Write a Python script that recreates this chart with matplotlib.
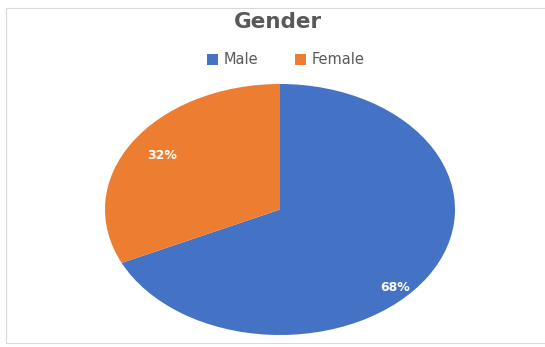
import matplotlib.pyplot as plt
from matplotlib.patches import Rectangle

labels = ['Male', 'Female']
shares = [68, 32]
colors = ['#4472C4', '#ED7D31']

W, H = 545, 347
fig = plt.figure(figsize=(W / 100, H / 100), dpi=100)

# light frame round the chart area
fig.patches.append(Rectangle((6 / W, 4 / H), 560 / W, (343 - 4 - 4) / H,
                             transform=fig.transFigure, fill=False,
                             edgecolor='#D9D9D9', linewidth=0.8))

# pie is stretched into an ellipse
ax = fig.add_axes([105 / W, (H - 335) / H, 350 / W, 251 / H])
wedges, texts, autotexts = ax.pie(shares, colors=colors, startangle=90, counterclock=False,
                                  autopct='%1.0f%%', pctdistance=0.8, radius=1,
                                  wedgeprops=dict(linewidth=0),
                                  textprops=dict(color='white', fontsize=9, fontweight='bold'))
ax.set_aspect('auto')
ax.set_xlim(-1, 1)
ax.set_ylim(-1, 1)
# excel puts the big label nearer the rim
x, y = autotexts[0].get_position()
autotexts[0].set_position((x - 0.02, y - 0.19))

fig.text(278 / W, 1 - 22 / H, 'Gender', ha='center', va='center',
         fontsize=15.5, fontweight='bold', color='#595959')
fig.legend(wedges, labels, loc='center', bbox_to_anchor=(286 / W, 1 - 60 / H),
           ncol=2, frameon=False, fontsize=10.5, handlelength=0.75, handleheight=0.75,
           columnspacing=2.5, handletextpad=0.4, labelcolor='#595959')

fig.savefig('out.png', dpi=100)
